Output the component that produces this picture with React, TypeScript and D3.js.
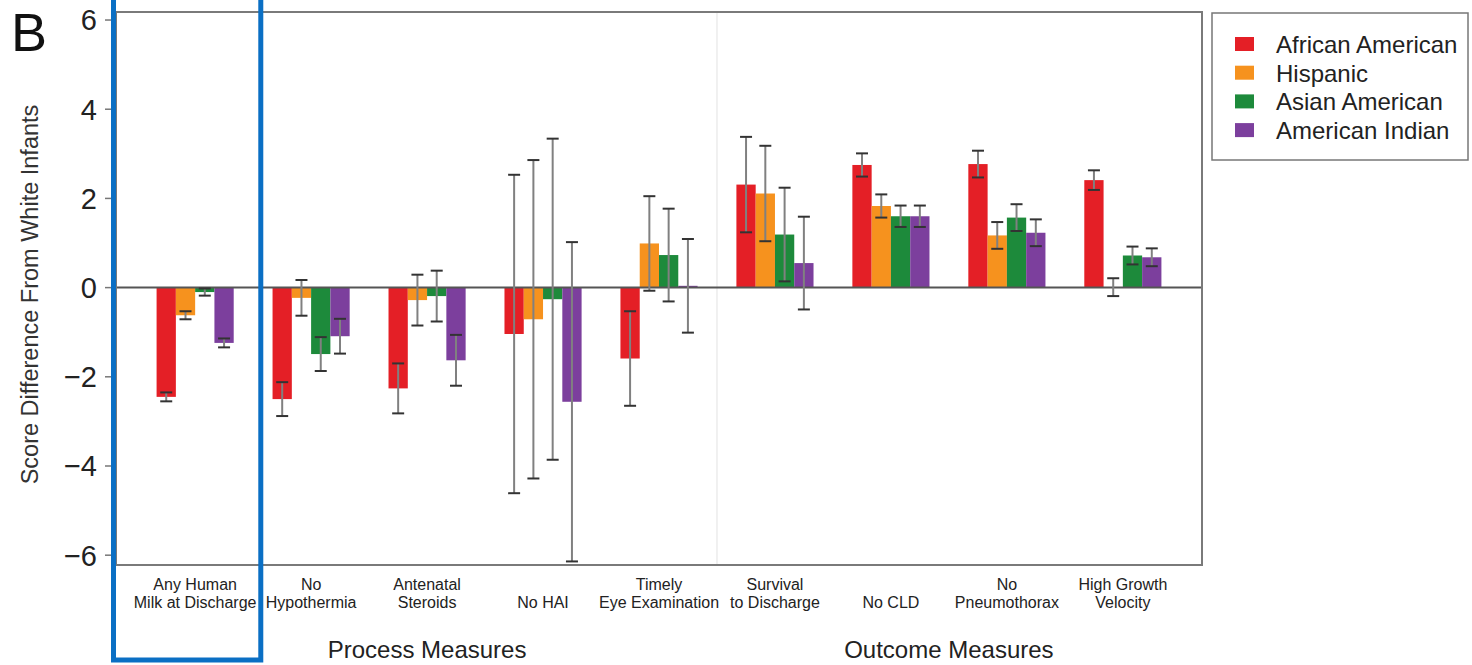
import React from 'react';
import * as d3 from 'd3';

const categories = ['Any Human Milk at Discharge', 'No Hypothermia', 'Antenatal Steroids', 'No HAI',
  'Timely Eye Examination', 'Survival to Discharge', 'No CLD', 'No Pneumothorax', 'High Growth Velocity'];
const categoryLines = [['Any Human', 'Milk at Discharge'], ['No', 'Hypothermia'], ['Antenatal', 'Steroids'],
  ['', 'No HAI'], ['Timely', 'Eye Examination'], ['Survival', 'to Discharge'], ['', 'No CLD'],
  ['No', 'Pneumothorax'], ['High Growth', 'Velocity']];
const measureGroups = ['Process Measures', 'Outcome Measures'];
const measureOfCategory = [0, 0, 0, 0, 0, 1, 1, 1, 1];
const highlighted = 'Any Human Milk at Discharge';

const series = ['African American', 'Hispanic', 'Asian American', 'American Indian'];
const colors = ['#e41f26', '#f6921e', '#1d8a3b', '#7c3f9d'];

const africanAmerican = [-2.45, -2.5, -2.26, -1.04, -1.59, 2.31, 2.75, 2.77, 2.41];
const africanAmericanErr = [0.1, 0.38, 0.56, 3.57, 1.06, 1.07, 0.26, 0.3, 0.22];
const hispanic = [-0.62, -0.23, -0.28, -0.71, 0.99, 2.11, 1.83, 1.17, 0.01];
const hispanicErr = [0.09, 0.4, 0.57, 3.57, 1.06, 1.07, 0.26, 0.3, 0.2];
const asianAmerican = [-0.1, -1.49, -0.19, -0.26, 0.73, 1.19, 1.6, 1.57, 0.72];
const asianAmericanErr = [0.08, 0.38, 0.57, 3.6, 1.04, 1.05, 0.24, 0.3, 0.2];
const americanIndian = [-1.24, -1.09, -1.63, -2.56, 0.04, 0.55, 1.6, 1.23, 0.68];
const americanIndianErr = [0.1, 0.39, 0.57, 3.58, 1.05, 1.04, 0.24, 0.3, 0.2];

const values = [africanAmerican, hispanic, asianAmerican, americanIndian];
const errors = [africanAmericanErr, hispanicErr, asianAmericanErr, americanIndianErr];
const yTicks = [-6, -4, -2, 0, 2, 4, 6];

export default function App() {
  const width = 1472, height = 665;
  const left = 116, right = 1202, top = 12, bottom = 565;
  const font = '"Liberation Sans", Arial, Helvetica, sans-serif';

  const y = d3.scaleLinear().domain([-6.22, 6.18]).range([bottom, top]);
  const x = d3.scaleBand<string>().domain(categories).range([left, right])
    .paddingInner(0.335).paddingOuter(0.35);
  const xs = d3.scaleBand<string>().domain(series).range([0, x.bandwidth()]);
  const fmt = d3.format('d');

  // boundary between process and outcome measures
  const splitIdx = measureOfCategory.indexOf(1);
  const splitX = ((x(categories[splitIdx - 1])! + x.bandwidth()) + x(categories[splitIdx])!) / 2;

  const groupCenter = (g: number) => {
    const idx = measureOfCategory.map((m, i) => (m === g ? i : -1)).filter(i => i >= 0);
    const a = x(categories[idx[0]])!;
    const b = x(categories[idx[idx.length - 1]])! + x.bandwidth();
    return (a + b) / 2;
  };

  const capW = 12;
  // highlight box around one category (annotation)
  const hlCx = x(highlighted)! + x.bandwidth() / 2 - 8;
  const hlHalf = x.step() * 0.635;

  return (
    <svg width={width} height={height} style={{ position: 'absolute', left: 0, top: 0, display: 'block', background: '#fff' }}
      fontFamily={font}>
      <text x={11} y={51} fontSize={54} fill="#111">B</text>

      <text transform={`translate(38,${(top + bottom) / 2 + 6}) rotate(-90)`} textAnchor="middle"
        fontSize={23.5} fill="#333">Score Difference From White Infants</text>

      {/* separator */}
      <line x1={splitX} x2={splitX} y1={top} y2={bottom} stroke="#e2e2e2" strokeWidth={1} />

      {/* y axis ticks */}
      {yTicks.map(t => (
        <g key={t}>
          <line x1={left - 11} x2={left} y1={y(t)} y2={y(t)} stroke="#777" strokeWidth={1.5} />
          <text x={97} y={y(t)} dy="0.36em" textAnchor="end" fontSize={29} fill="#222">
            {fmt(t).replace('-', '\u2212')}
          </text>
        </g>
      ))}

      {/* bars */}
      {categories.map((c, i) => (
        <g key={c} transform={`translate(${x(c)},0)`}>
          {series.map((s, j) => {
            const v = values[j][i];
            return (
              <rect key={s} x={xs(s)} width={xs.bandwidth()} y={Math.min(y(v), y(0))}
                height={Math.abs(y(v) - y(0))} fill={colors[j]} />
            );
          })}
        </g>
      ))}

      {/* zero line */}
      <line x1={left} x2={right} y1={y(0)} y2={y(0)} stroke="#555" strokeWidth={2} />

      {/* error bars */}
      {categories.map((c, i) => (
        <g key={c} transform={`translate(${x(c)},0)`}>
          {series.map((s, j) => {
            const v = values[j][i], e = errors[j][i];
            const cx = xs(s)! + xs.bandwidth() / 2;
            return (
              <g key={s}>
                <line x1={cx} x2={cx} y1={y(v + e)} y2={y(v - e)} stroke="#808080" strokeWidth={2} />
                <line x1={cx - capW / 2} x2={cx + capW / 2} y1={y(v + e)} y2={y(v + e)} stroke="#333" strokeWidth={2} />
                <line x1={cx - capW / 2} x2={cx + capW / 2} y1={y(v - e)} y2={y(v - e)} stroke="#333" strokeWidth={2} />
              </g>
            );
          })}
        </g>
      ))}

      {/* frame */}
      <rect x={left} y={top} width={right - left} height={bottom - top} fill="none" stroke="#7a7a7a" strokeWidth={2} />

      {/* category labels */}
      {categories.map((c, i) => (
        <text key={c} textAnchor="middle" fontSize={16} fill="#222">
          <tspan x={x(c)! + x.bandwidth() / 2} y={590}>{categoryLines[i][0]}</tspan>
          <tspan x={x(c)! + x.bandwidth() / 2} y={608}>{categoryLines[i][1]}</tspan>
        </text>
      ))}

      {measureGroups.map((g, k) => (
        <text key={g} x={groupCenter(k)} y={658} textAnchor="middle" fontSize={24} fill="#222">{g}</text>
      ))}

      {/* legend */}
      <rect x={1212} y={13} width={256} height={147} fill="#fff" stroke="#777" strokeWidth={1.5} />
      {series.map((s, j) => (
        <g key={s} transform={`translate(0,${j * 28.7})`}>
          <rect x={1235} y={37} width={19} height={14} fill={colors[j]} />
          <text x={1276} y={53} fontSize={24} fill="#222">{s}</text>
        </g>
      ))}

      {/* highlight */}
      <rect x={hlCx - hlHalf} y={-10} width={hlHalf * 2} height={670} fill="none" stroke="#0a6fc4" strokeWidth={5} />
    </svg>
  );
}
